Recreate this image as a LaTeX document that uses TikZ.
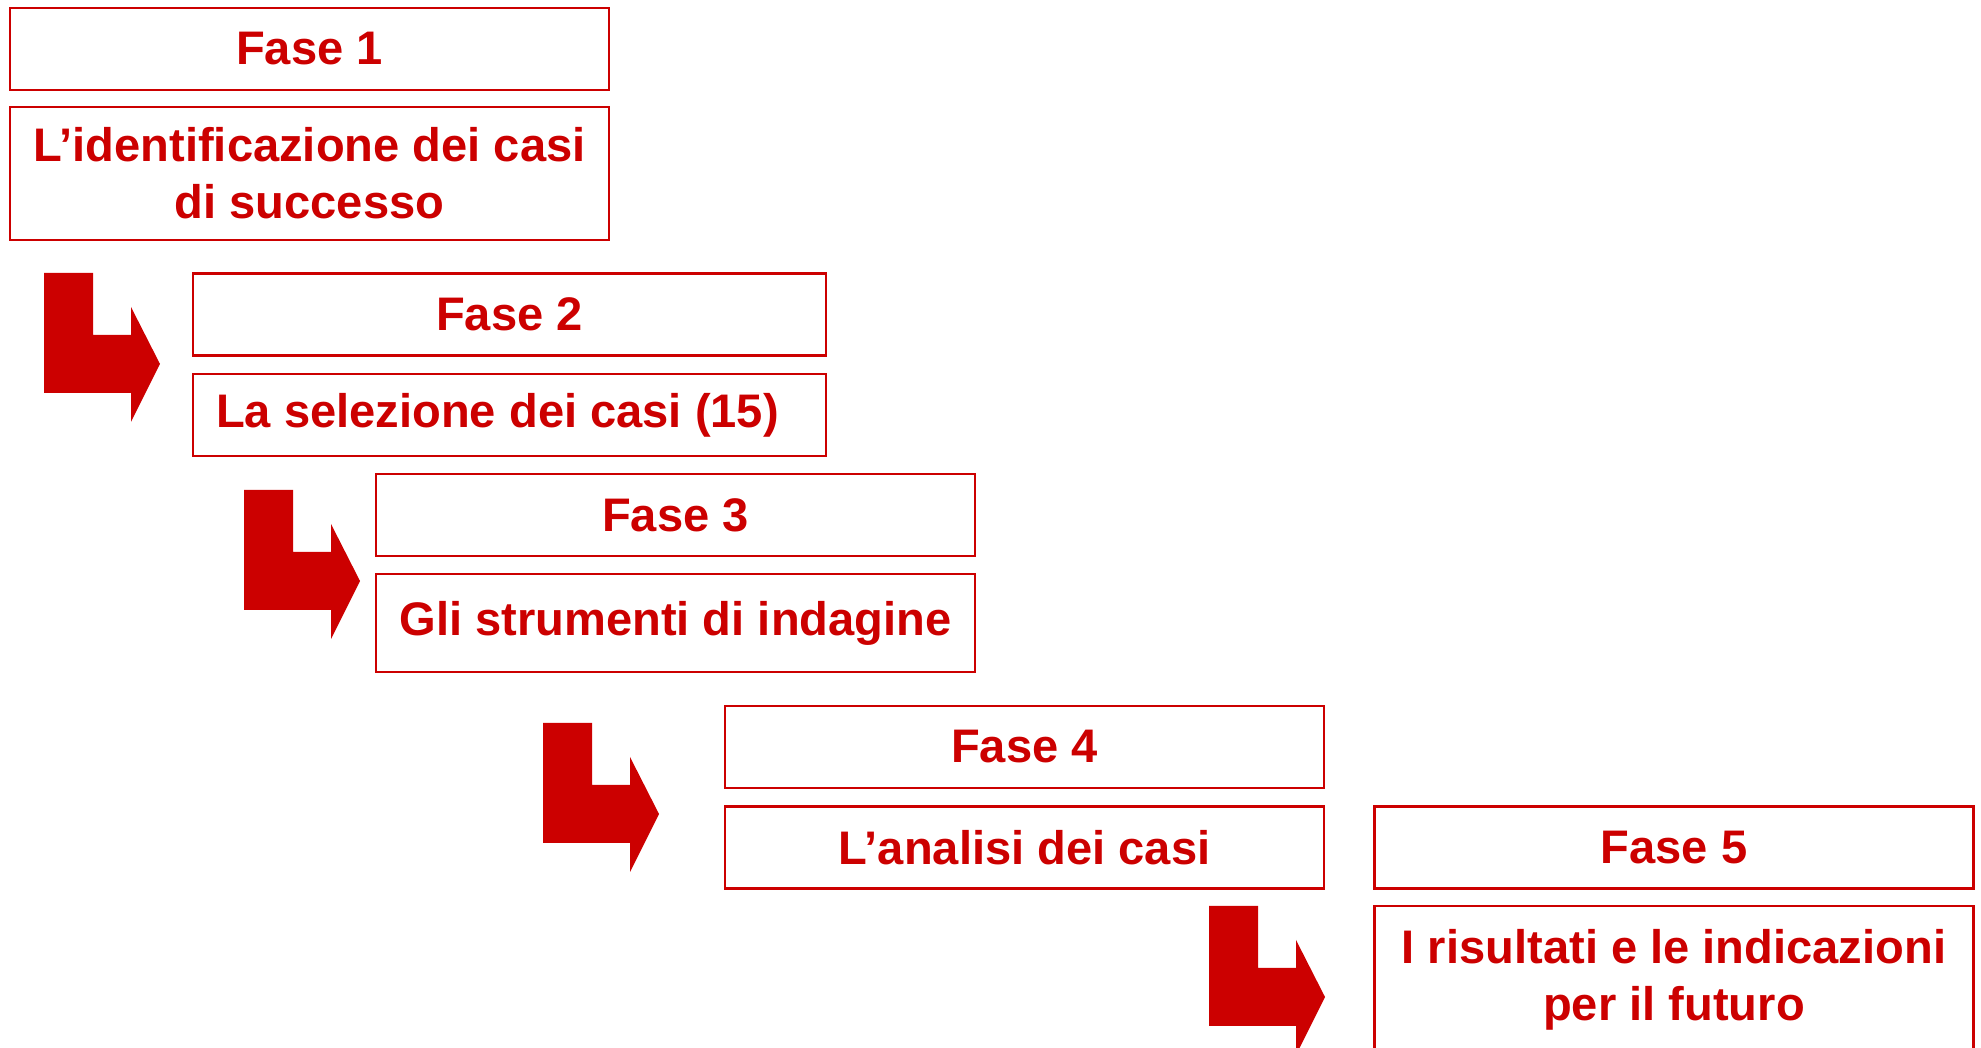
\documentclass[tikz,border=0pt]{standalone}
\usepackage{fontspec}
\setmainfont{Liberation Sans}
\usepackage{tikz}
\usetikzlibrary{calc}
\definecolor{faseRed}{RGB}{204,0,0}
\newcommand{\bw}{59.9mm}

\begin{document}
\begin{tikzpicture}[x=0.1mm,y=-0.1mm,
    fasebox/.style={draw=faseRed,line width=0.6pt,text=faseRed,minimum width=\bw,
      minimum height=8.2mm,align=center,inner sep=0pt,
      font=\bfseries\fontsize{13.4}{16.2}\selectfont}]
                    \useasboundingbox (0,0) rectangle (1981,1048);
                    % fasi
                    \node[fasebox] (f1) at (309.5,49) {Fase 1};
                    \node[fasebox,minimum height=13.3mm] (t1) at (309.5,173.5) {L’identificazione dei casi\\di successo};
                    \node[fasebox,minimum width=63.3mm] (f2) at (509.5,314.5) {Fase 2};
                    \node[fasebox,minimum width=63.3mm] (t2) at (509.5,415) {La selezione dei casi (15)\hspace*{2.4mm}};
                    \node[fasebox] (f3) at (675.5,515) {Fase 3};
                    \node[fasebox,minimum height=9.8mm] (t3) at (675.5,623) {Gli strumenti di indagine};
                    \node[fasebox] (f4) at (1024.5,747) {Fase 4};
                    \node[fasebox] (t4) at (1024.5,847.5) {L’analisi dei casi};
                    \node[fasebox] (f5) at (1674,847.5) {Fase 5};
                    \node[fasebox,minimum height=14.7mm] (t5) at (1674,979.5) {I risultati e le indicazioni\\per il futuro};
                    % frecce
                    \coordinate (a1) at (44,273);
                    \coordinate (a2) at (244,490);
                    \coordinate (a3) at (543,723);
                    \coordinate (a4) at (1209,906);
                    \foreach \h in {a1,a2,a3,a4}{
                    \fill[faseRed] (\h) -- ++(49,0) -- ++(0,62) -- ++(38,0) -- ++(0,-28)
                      -- ++(29,57) -- ++(-29,58) -- ++(0,-29) -- ++(-87,0) -- cycle;
                    }
                    \end{tikzpicture}
\end{document}
